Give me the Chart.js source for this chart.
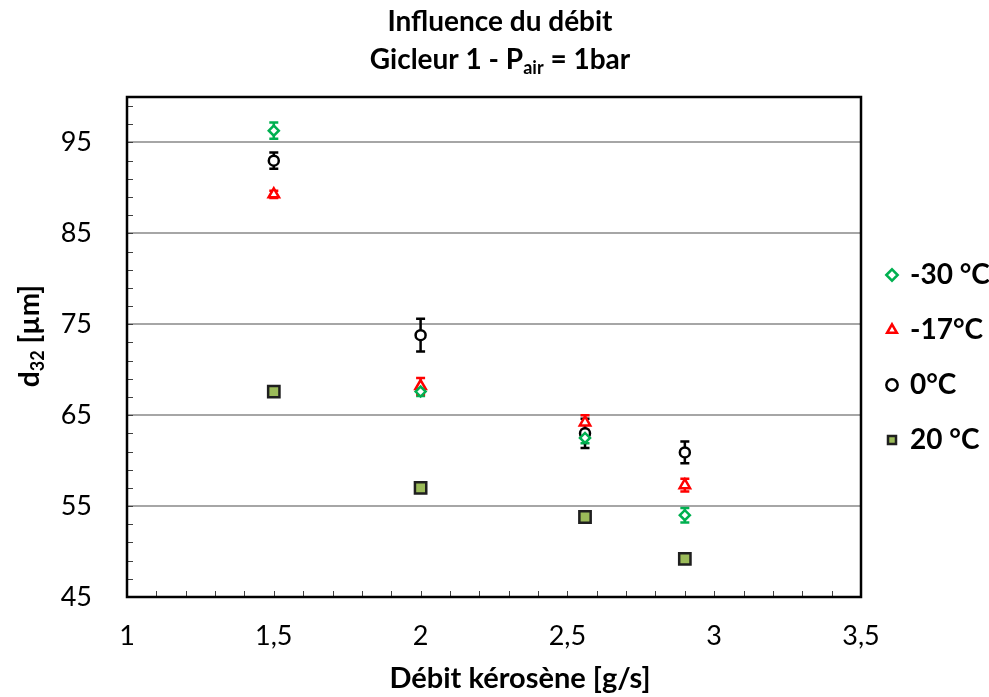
<!DOCTYPE html>
<html>
<head>
<meta charset="utf-8">
<title>Influence du débit</title>
<script src="https://cdn.jsdelivr.net/npm/chart.js@4.4.1/dist/chart.umd.min.js"></script>
<style>
    body { margin: 0; background: #fff; }
    #wrap { width: 989px; height: 697px; }
</style>
</head>
<body>
<div id="wrap"><canvas id="chart"></canvas></div>

<script>
    // Débit kérosène [g/s]
    const debit = [1.5, 2.0, 2.56, 2.9];

    // d32 [µm] and its error for each fuel temperature
    const d32_m30 = [96.3, 67.6, 62.5, 54.0];
    const err_m30 = [0.9, 0.5, 0.6, 0.8];
    const d32_m17 = [89.3, 68.2, 64.2, 57.3];
    const err_m17 = [0.4, 0.9, 0.8, 0.7];
    const d32_0 = [93.0, 73.8, 63.0, 60.9];
    const err_0 = [0.9, 1.8, 1.6, 1.2];
    const d32_20 = [67.6, 57.0, 53.8, 49.2];
    const err_20 = [0.3, 0.5, 0.3, 0.2];

    const seriesNames = ['-30 °C', '-17°C', '0°C', '20 °C'];

    // axis ticks
    const xTickValues = [1, 1.5, 2, 2.5, 3, 3.5];
    const yTickValues = [45, 55, 65, 75, 85, 95];

    const FONT = 'Lato';

    function points(ys) {
        return debit.map(function (d, i) { return { x: d, y: ys[i] }; });
    }

    //Vertical error bars, drawn under the markers
    const errorBars = {
        id: 'errorBars',
        beforeDatasetsDraw(chart) {
            const ctx = chart.ctx;
            const x = chart.scales.x, y = chart.scales.y;
            chart.data.datasets.forEach(function (ds, i) {
                if (!chart.isDatasetVisible(i)) return;
                ctx.save();
                ctx.strokeStyle = ds.borderColor;
                ctx.lineWidth = 2.5;
                ds.data.forEach(function (p, j) {
                    const e = ds.errors[j];
                    const px = x.getPixelForValue(p.x);
                    const top = y.getPixelForValue(p.y + e);
                    const bot = y.getPixelForValue(p.y - e);
                    ctx.beginPath();
                    ctx.moveTo(px, top); ctx.lineTo(px, bot);
                    ctx.moveTo(px - 4.5, top); ctx.lineTo(px + 4.5, top);
                    ctx.moveTo(px - 4.5, bot); ctx.lineTo(px + 4.5, bot);
                    ctx.stroke();
                });
                ctx.restore();
            });
        }
    };

    //Legend sits a bit above the middle, level with the plot
    const legendPlace = {
        id: 'legendPlace',
        beforeDraw(chart) {
            chart.legend.top = 234;
        }
    };

    //Write text pieces side by side, some of them as subscripts
    function drawPieces(ctx, pieces, cx, cy) {
        let w = 0;
        pieces.forEach(function (p) { ctx.font = p[1]; w += ctx.measureText(p[0]).width; });
        let px = cx - w / 2;
        ctx.textAlign = 'left';
        pieces.forEach(function (p) {
            ctx.font = p[1];
            ctx.fillText(p[0], px, cy + p[2]);
            px += ctx.measureText(p[0]).width;
        });
    }

    //Frame, inner minor ticks, titles (with subscripts)
    const decorations = {
        id: 'decorations',
        afterDraw(chart) {
            const ctx = chart.ctx;
            const a = chart.chartArea;
            const x = chart.scales.x, y = chart.scales.y;
            ctx.save();

            // minor ticks pointing inside the plot
            ctx.strokeStyle = '#404040';
            ctx.lineWidth = 1;
            ctx.beginPath();
            for (let v = 45; v < 100; v += 2) {
                const py = Math.round(y.getPixelForValue(v)) + 0.5;
                ctx.moveTo(a.left, py); ctx.lineTo(a.left + 6, py);
            }
            for (let k = 10; k <= 35; k++) {
                const px = Math.round(x.getPixelForValue(k / 10)) + 0.5;
                ctx.moveTo(px, a.bottom); ctx.lineTo(px, a.bottom - 6);
            }
            ctx.stroke();

            // plot frame
            ctx.strokeStyle = '#000';
            ctx.lineWidth = 2.5;
            ctx.strokeRect(a.left, a.top, a.right - a.left, a.bottom - a.top);

            ctx.fillStyle = '#000';
            ctx.textBaseline = 'middle';
            ctx.textAlign = 'center';

            // chart title
            const big = 'bold 28px ' + FONT, small = 'bold 18px ' + FONT;
            ctx.font = big;
            ctx.fillText('Influence du débit', 500, 22);
            drawPieces(ctx, [['Gicleur 1 - P', big, 0], ['air', small, 8], [' = 1bar', big, 0]], 500, 60);

            // x axis title
            ctx.font = 'bold 29px ' + FONT;
            ctx.textAlign = 'center';
            ctx.fillText('Débit kérosène [g/s]', 520, 679);

            // y axis title: d32 [µm]
            ctx.translate(30, 336);
            ctx.rotate(-Math.PI / 2);
            drawPieces(ctx, [['d', big, 0], ['32', small, 8], [' [µm]', big, 0]], 0, 0);
            ctx.restore();
        }
    };

    const data = {
        datasets: [
            {
                label: seriesNames[0], data: points(d32_m30), errors: err_m30,
                pointStyle: 'rectRot', pointRadius: 5, borderWidth: 2.5,
                borderColor: '#00b050', backgroundColor: '#ffffff'
            },
            {
                label: seriesNames[1], data: points(d32_m17), errors: err_m17,
                pointStyle: 'triangle', pointRadius: 6, borderWidth: 2.5,
                borderColor: '#ff0000', backgroundColor: '#ffffff'
            },
            {
                label: seriesNames[2], data: points(d32_0), errors: err_0,
                pointStyle: 'circle', pointRadius: 5, borderWidth: 2.5,
                borderColor: '#000000', backgroundColor: '#ffffff'
            },
            {
                label: seriesNames[3], data: points(d32_20), errors: err_20,
                pointStyle: 'rect', pointRadius: 8, borderWidth: 2.5,
                borderColor: '#1f1f1f', backgroundColor: '#9bbb59'
            }
        ]
    };

    const config = {
        type: 'scatter',
        data: data,
        plugins: [errorBars, legendPlace, decorations],
        options: {
            responsive: true,
            maintainAspectRatio: false,
            animation: false,
            layout: { padding: { top: 97, right: 0, left: 0, bottom: 0 } },
            plugins: {
                title: { display: false },
                tooltip: { enabled: false },
                legend: {
                    position: 'right',
                    align: 'start',
                    maxWidth: 128,
                    labels: {
                        usePointStyle: true,
                        boxWidth: 8,
                        boxHeight: 8,
                        padding: 27,
                        color: '#000',
                        font: { family: FONT, size: 28, weight: 'bold' }
                    }
                }
            },
            scales: {
                x: {
                    type: 'linear',
                    min: 1,
                    max: 3.5,
                    afterFit: function (scale) { scale.height = 100; },
                    afterBuildTicks: function (scale) {
                        scale.ticks = xTickValues.map(function (v) { return { value: v }; });
                    },
                    grid: { display: false, drawTicks: false },
                    border: { display: false },
                    ticks: {
                        padding: 23,
                        color: '#000',
                        maxRotation: 0,
                        font: { family: FONT, size: 27 },
                        callback: function (v) { return String(v).replace('.', ','); }
                    }
                },
                y: {
                    type: 'linear',
                    min: 45,
                    max: 100,
                    afterFit: function (scale) { scale.width = 127; },
                    afterBuildTicks: function (scale) {
                        scale.ticks = yTickValues.map(function (v) { return { value: v }; });
                    },
                    grid: { color: '#a6a6a6', lineWidth: 2, drawTicks: false },
                    border: { display: false },
                    ticks: {
                        padding: 35,
                        color: '#000',
                        font: { family: FONT, size: 27 }
                    }
                }
            }
        }
    };

    new Chart(document.getElementById('chart'), config);
</script>
</body>
</html>
